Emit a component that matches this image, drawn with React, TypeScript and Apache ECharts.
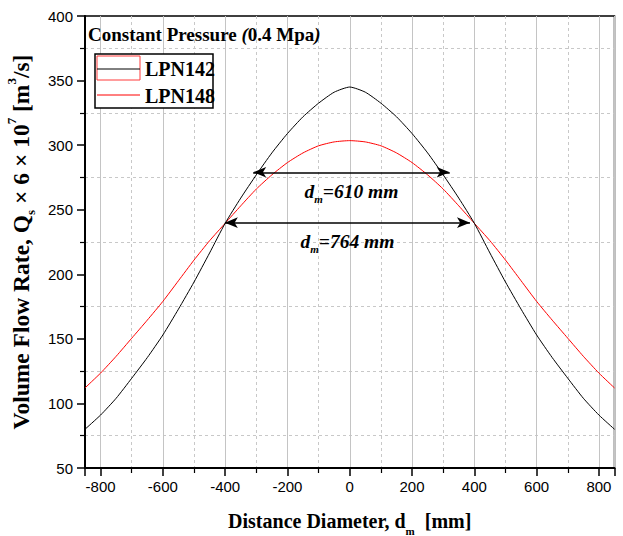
import React, { useEffect, useRef } from 'react';
import * as echarts from 'echarts';

// Distance diameter d_m [mm]
const distance = [
  -850, -800, -750, -700, -650, -600, -550, -500, -450, -400, -350, -300, -250, -200, -150, -100, -50,
  0,
  50, 100, 150, 200, 250, 300, 350, 400, 450, 500, 550, 600, 650, 700, 750, 800, 850,
];
// Volume flow rate Qs x 6 x 10^7 [m^3/s]
const lpn142 = [
  80, 91, 104, 119.5, 135.5, 153, 173, 194, 216.5, 239.5, 259, 277, 294, 309, 322, 332.5, 341,
  345,
  341, 332.5, 322, 309, 294, 277, 259, 239.5, 216.5, 194, 173, 153, 135.5, 119.5, 104, 91, 80,
];
const lpn148 = [
  112, 123.5, 136.5, 150.5, 164.5, 179, 195, 211, 226, 239.5, 253, 266, 277, 286.5, 294, 299.5, 302.5,
  303.5,
  302.5, 299.5, 294, 286.5, 277, 266, 253, 239.5, 226, 211, 195, 179, 164.5, 150.5, 136.5, 123.5, 112,
];
const seriesNames = ['LPN142', 'LPN148'];
const xTickLabels = ['-800', '-600', '-400', '-200', '0', '200', '400', '600', '800'];
// annotation arrows: [xStart, xEnd, y]
const arrow610 = [-310, 321, 279];
const arrow764 = [-401, 386, 240];
const label610 = '=610 mm';
const label764 = '=764 mm';

const SERIF = '"Liberation Serif", "Times New Roman", serif';
const SANS = '"Liberation Sans", Arial, sans-serif';

const richTokens = (size: number, lh: number, italic = false) => ({
  a: { fontFamily: SERIF, fontWeight: 'bold', fontStyle: italic ? 'italic' : 'normal', fontSize: size, lineHeight: lh, verticalAlign: 'middle', color: '#000' },
  sub: { fontFamily: SERIF, fontWeight: 'bold', fontStyle: italic ? 'italic' : 'normal', fontSize: Math.round(size * 0.55), lineHeight: Math.round(size * 0.6), verticalAlign: 'bottom', color: '#000' },
  sup: { fontFamily: SERIF, fontWeight: 'bold', fontStyle: italic ? 'italic' : 'normal', fontSize: Math.round(size * 0.55), lineHeight: Math.round(size * 0.6), verticalAlign: 'top', color: '#000' },
});

function buildOption() {
  const d142 = distance.map((x, i) => [x, lpn142[i]]);
  const d148 = distance.map((x, i) => [x, lpn148[i]]);
  const arrowLabel = (txt: string) => ({
    show: true,
    position: 'insideMiddleBottom',
    distance: 6,
    formatter: '{a|d}{sub|m}{a|' + txt + '}',
    rich: richTokens(19.5, 26, true),
  });
  return {
    animation: false,
    backgroundColor: '#fff',
    grid: { left: 85, right: 8.5, top: 16, bottom: 68, show: true, borderColor: '#000', borderWidth: 1.5, backgroundColor: 'transparent', containLabel: false, outerBoundsMode: 'none' },
    xAxis: {
      type: 'value',
      min: -850,
      max: 850,
      splitNumber: 8,
      name: '{a|Distance Diameter, d}{sub|m}{a|  [mm]}',
      nameLocation: 'middle',
      nameGap: 38,
      nameTextStyle: { rich: richTokens(20, 30) },
      axisLine: { show: true, onZero: false, lineStyle: { color: '#000', width: 2 } },
      axisTick: { show: true, inside: false, length: 8, lineStyle: { color: '#000', width: 1.5 } },
      minorTick: { show: true, splitNumber: 2, length: 5, lineStyle: { color: '#000', width: 1.2 } },
      axisLabel: {
        show: true, margin: 11, color: '#000', fontFamily: SANS, fontSize: 15,
        showMinLabel: false, showMaxLabel: false,
        formatter: (v: number) => (xTickLabels.includes(String(v)) ? String(v) : ''),
      },
      splitLine: { show: true, lineStyle: { color: '#c4c4c4', width: 1, type: 'solid' } },
      minorSplitLine: { show: true, lineStyle: { color: '#c8c8c8', width: 1, type: [3, 3] } },
    },
    yAxis: {
      type: 'value',
      min: 50,
      max: 400,
      interval: 50,
      name: '{a|Volume Flow Rate, Q}{sub|s}{a| × 6 × 10}{sup|7}{a| [m}{sup|3}{a|/s]}',
      nameLocation: 'middle',
      nameGap: 48,
      nameTextStyle: { rich: richTokens(23.5, 32) },
      axisLine: { show: true, onZero: false, lineStyle: { color: '#000', width: 2 } },
      axisTick: { show: true, inside: false, length: 8, lineStyle: { color: '#000', width: 1.5 } },
      minorTick: { show: true, splitNumber: 2, length: 5, lineStyle: { color: '#000', width: 1.2 } },
      axisLabel: { show: true, margin: 12, color: '#000', fontFamily: SANS, fontSize: 15 },
      splitLine: { show: false },
      minorSplitLine: { show: true, lineStyle: { color: '#c8c8c8', width: 1, type: [3, 3] } },
    },
    graphic: [
      {
        type: 'text', x: 88, y: 34, z: 100,
        style: {
          text: '{b|Constant Pressure }{i|(}{b|0.4 Mpa}{i|)}',
          verticalAlign: 'middle', align: 'left',
          rich: {
            b: { fontFamily: SERIF, fontWeight: 'bold', fontSize: 19, fill: '#000' },
            i: { fontFamily: SERIF, fontWeight: 'bold', fontStyle: 'italic', fontSize: 19, fill: '#000' },
          },
        },
      },
      { type: 'rect', z: 100, shape: { x: 95, y: 54, width: 118, height: 54 }, style: { fill: '#fff', stroke: '#000', lineWidth: 1.5 } },
      { type: 'rect', z: 101, shape: { x: 97, y: 56, width: 43, height: 24 }, style: { fill: 'none', stroke: '#ff3b3b', lineWidth: 1 } },
      { type: 'line', z: 101, shape: { x1: 97, y1: 69, x2: 140, y2: 69 }, style: { stroke: '#000', lineWidth: 1 } },
      { type: 'line', z: 101, shape: { x1: 97, y1: 95, x2: 140, y2: 95 }, style: { stroke: '#ff0000', lineWidth: 1 } },
      { type: 'text', z: 101, x: 145, y: 69, style: { text: seriesNames[0], verticalAlign: 'middle', fontFamily: SERIF, fontWeight: 'bold', fontSize: 20, fill: '#000' } },
      { type: 'text', z: 101, x: 145, y: 96, style: { text: seriesNames[1], verticalAlign: 'middle', fontFamily: SERIF, fontWeight: 'bold', fontSize: 20, fill: '#000' } },
    ],
    series: [
      {
        name: seriesNames[0],
        type: 'line',
        data: d142,
        smooth: 0.2,
        showSymbol: false,
        lineStyle: { color: '#000', width: 1 },
        itemStyle: { color: '#000' },
        z: 5,
        markLine: {
          silent: true,
          symbol: ['arrow', 'arrow'],
          symbolSize: [8, 13],
          lineStyle: { color: '#000', width: 1.5, type: 'solid' },
          itemStyle: { color: '#000' },
          data: [
            [
              { coord: [arrow610[0], arrow610[2]], label: arrowLabel(label610) },
              { coord: [arrow610[1], arrow610[2]] },
            ],
            [
              { coord: [arrow764[0], arrow764[2]], label: arrowLabel(label764) },
              { coord: [arrow764[1], arrow764[2]] },
            ],
          ],
        },
      },
      {
        name: seriesNames[1],
        type: 'line',
        data: d148,
        smooth: 0.2,
        showSymbol: false,
        lineStyle: { color: '#ff0000', width: 1 },
        itemStyle: { color: '#ff0000' },
        z: 4,
      },
    ],
  };
}

export default function App() {
  const ref = useRef<HTMLDivElement>(null);
  useEffect(() => {
    if (!ref.current) return;
    const chart = echarts.init(ref.current, null, { renderer: 'svg' });
    chart.setOption(buildOption() as any);
    return () => chart.dispose();
  }, []);
  return <div ref={ref} style={{ position: 'fixed', left: 0, top: 0, width: 623, height: 536, background: '#fff' }} />;
}
